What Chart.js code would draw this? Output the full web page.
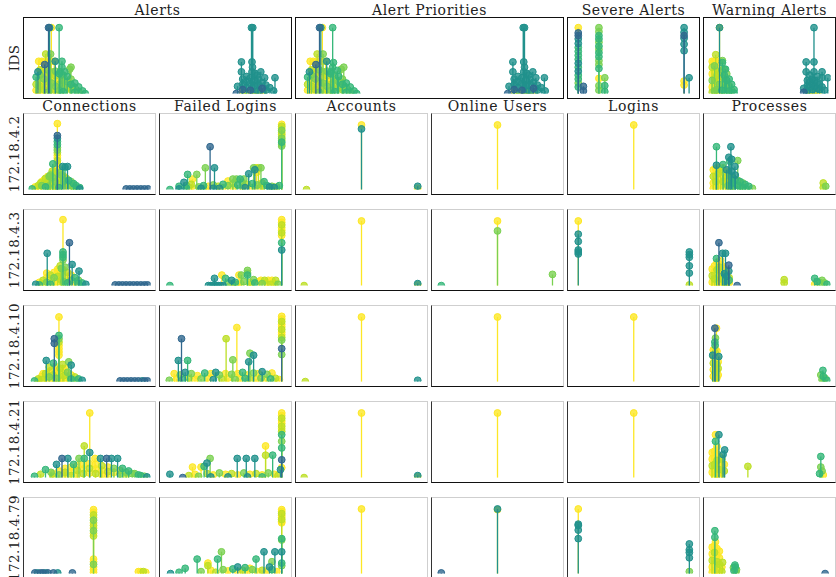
<!DOCTYPE html>
<html>
<head>
<meta charset="utf-8">
<script src="https://cdn.jsdelivr.net/npm/chart.js@4.4.1/dist/chart.umd.min.js"></script>
<style>
  body { margin: 0; background: #fff; font-family: "DejaVu Serif", serif; }
  #page { position: relative; width: 836px; height: 577px; overflow: hidden; }
  .panel { position: absolute; box-sizing: border-box; }
  .panel canvas { display: block; }
  .topframe { border: 1px solid #111; }
  .gridframe { border: 1px solid #cfcfcf; border-left-color: #333; border-bottom-color: #111; }
  .title { position: absolute; text-align: center; font-size: 14px; letter-spacing: 0.6px; color: #222; line-height: 16px; }
  .rowlab { position: absolute; width: 120px; height: 16px; line-height: 16px; text-align: center;
            font-size: 13.5px; letter-spacing: 0.4px; color: #222; transform: rotate(-90deg); }
</style>
</head>
<body>
<div id="page"></div>
<script>
// series colours, one per time window
const palette = ['#31688e', '#21918c', '#35b779', '#7ad151', '#bddf26', '#fde725'];

const topTitles = ['Alerts', 'Alert Priorities', 'Severe Alerts', 'Warning Alerts'];
const colTitles = ['Connections', 'Failed Logins', 'Accounts', 'Online Users', 'Logins', 'Processes'];
const rowLabels = ['IDS', '172.18.4.2', '172.18.4.3', '172.18.4.10', '172.18.4.21', '172.18.4.79'];

// points are [x, y, series]
const alertsPts = [
  [7.8,100,0],[8.2,100,1],[11.9,100,2],[8.9,100,5],
  [6.7,60,4],[8.6,60,3],[10.4,49,1],[13,49,2],[6.3,44,0],[13,40,2],[16.5,40,3],[12.3,33,2],[14.1,33,2],[16,37,3],[3.7,33,1],
  [3,25,2],[3,14,4],[3,5,5],[4.5,36,4],[4.5,28,3],[4.5,20,5],[4.5,11,4],[4.5,3,5],
  [6,38,5],[6,30,4],[6,22,3],[6,14,5],[6,6,4],[7.5,36,3],[7.5,26,5],[7.5,18,4],[7.5,9,5],[7.5,2,3],
  [9,33,4],[9,25,5],[9,16,3],[9,7,5],[10.5,34,3],[10.5,27,4],[10.5,19,5],[10.5,11,3],[10.5,4,4],
  [12,30,2],[12,22,5],[12,14,4],[12,5,3],[13.5,28,3],[13.5,20,4],[13.5,12,5],[13.5,3,2],
  [15,26,2],[15,18,3],[15,9,4],[16.5,22,3],[16.5,14,2],[16.5,6,4],[18,16,2],[18,9,3],[18,2,2],
  [19.5,10,2],[19.5,3,3],[21,4,2],[22,0,2],
  [4,49,5],[5.2,49,5],[6.4,49,5],[7.6,49,5],[8.8,49,5],[10,49,5],
  [86.4,100,1],[86.9,100,1],[82.5,48,1],[86.6,48,1],[82.5,33,1],[86.6,33,1],[90,33,1],[86.8,40,1],[95.5,24,1],[91.5,24,1],
  [87.6,31,1],[88.6,28,1],[81,11,1],[80.5,0,0],
  [83,22,1],[83,14,1],[83,6,0],[84.5,26,1],[84.5,18,1],[84.5,9,1],[86,24,1],[86,15,1],[86,5,0],[87.5,20,1],[87.5,12,1],
  [89,22,1],[89,13,1],[89,4,1],[90.5,17,1],[90.5,8,0],[92,13,1],[92,5,1],[93.5,9,1],[95,4,1],
  [83,3,5],[85,2,5],[87,3,5],[89,2,5],[91,3,5],[84,1,3],[88,1,4]
];
const priorityPts = [
  [7.4,100,0],[7.9,100,1],[12.5,100,2],[8.5,100,5],
  [6.5,60,4],[8.8,60,3],[10.2,49,1],[12.8,47,2],[6,44,0],[12.5,40,2],[16.8,40,3],[11.8,33,2],[14.3,35,2],[15.8,37,3],[3.5,33,1],
  [2.8,25,2],[2.8,14,4],[2.8,5,5],[4.3,36,4],[4.3,28,3],[4.3,20,5],[4.3,11,4],[4.3,3,5],
  [5.8,38,5],[5.8,30,4],[5.8,22,3],[5.8,14,5],[5.8,6,4],[7.3,36,3],[7.3,26,5],[7.3,18,4],[7.3,9,5],[7.3,2,3],
  [8.8,33,4],[8.8,25,5],[8.8,16,3],[8.8,7,5],[10.3,34,3],[10.3,27,4],[10.3,19,5],[10.3,11,3],[10.3,4,4],
  [11.8,30,2],[11.8,22,5],[11.8,14,4],[11.8,5,3],[13.3,28,3],[13.3,20,4],[13.3,12,5],[13.3,3,2],
  [14.8,26,2],[14.8,18,3],[14.8,9,4],[16.3,22,3],[16.3,14,2],[16.3,6,4],[17.8,16,2],[17.8,9,3],[17.8,2,2],
  [19.3,10,2],[19.3,3,3],[20.8,4,2],[21.8,0,2],
  [3.8,49,5],[5,49,5],[6.2,49,5],[7.4,49,5],[8.6,49,5],[9.8,49,5],
  [86.3,100,1],[86.8,100,1],[82.3,48,1],[86.5,48,1],[82.3,33,1],[86.5,33,1],[90,33,1],[86.8,40,1],[94.5,24,1],[91.2,24,1],
  [87.5,31,1],[88.4,28,1],[80.8,11,1],[80.3,0,0],
  [82.8,22,1],[82.8,14,1],[82.8,6,0],[84.3,26,1],[84.3,18,1],[84.3,9,1],[85.8,24,1],[85.8,15,1],[85.8,5,0],[87.3,20,1],[87.3,12,1],
  [88.8,22,1],[88.8,13,1],[88.8,4,1],[90.3,17,1],[90.3,8,0],[91.8,13,1],[91.8,5,1],[93.3,9,1],[94.8,4,1],
  [82.8,3,5],[84.8,2,5],[86.8,3,5],[88.8,2,5],[90.8,3,5],[83.8,1,3],[87.8,1,4]
];
const severePts = [
  [4.8,100,5],[4.8,92,0],[4.8,88,0],[4.8,83,1],[4.8,76,1],[4.8,70,2],[4.8,64,2],[4.8,58,2],[4.8,52,2],[4.8,46,1],
  [4.8,40,2],[4.8,34,1],[4.8,28,2],[4.8,22,2],[4.8,16,3],[4.8,10,2],[9,11,0],[9,4,0],
  [21.7,100,3],[21.7,94,3],[21.7,88,2],[21.7,83,2],[21.7,78,3],[21.7,72,2],[21.7,67,3],[21.7,62,2],[21.7,56,2],
  [21.7,50,3],[21.7,44,3],[21.7,38,2],[21.7,23,5],[21.7,12,3],[21.7,5,3],[26.5,24,3],[26.5,12,2],[26.5,3,2],
  [91.4,100,1],[91.4,93,1],[91.4,88,0],[91.4,84,1],[91.4,75,1],[91.4,65,1],[91.4,19,5],[91.4,13,5],[95.5,24,1]
];
const warningPts = [
  [9.1,100,1],[9.1,100,5],[86.4,100,1],
  [6,59,4],[3,49,5],[4.5,49,5],[6,49,5],[7.5,49,5],[9,49,5],[11.5,50,3],[11.5,47,2],[13,37,3],[14,37,2],
  [3,40,4],[3,30,5],[3,20,3],[3,10,5],[3,2,4],[5,42,3],[5,32,5],[5,22,4],[5,12,5],[5,4,3],
  [7,38,5],[7,28,4],[7,16,5],[7,6,3],[9,34,4],[9,24,5],[9,14,3],[9,4,5],[11,36,3],[11,26,4],[11,15,5],[11,5,2],
  [13,28,2],[13,18,4],[13,8,3],[15,30,3],[15,20,2],[15,10,4],[15,2,3],[17,22,2],[17,12,3],[17,4,2],
  [19,14,2],[19,5,3],[21,6,2],[21,1,2],
  [80,48,1],[86.4,48,1],[80,33,1],[86.4,33,1],[93,33,1],[93,24,1],[97.7,24,1],[83,28,1],[89,26,1],
  [78,8,1],[78,2,0],[81,20,1],[81,12,1],[81,4,1],[83,18,1],[83,10,1],[85,22,1],[85,14,1],[85,6,1],
  [87,20,1],[87,11,1],[89,16,1],[89,8,1],[91,14,1],[91,6,1],[93,10,1],[95,5,1],
  [82,3,5],[84,3,5],[86,3,5],[88,3,5],[90,3,5]
];

const conn1Pts = [
  [23.7,100,5],[23.7,82,0],[23.7,78,1],[23.7,73,2],[23.7,68,2],[23.7,64,3],[23.7,60,3],[23.7,56,4],[23.7,52,5],[23.7,48,5],
  [23.7,44,4],[23.7,40,5],[23.7,36,5],[23.7,32,5],[23.7,28,5],[23.7,24,5],
  [20,39,2],[28,35,1],[32,35,1],[30,34,2],[26.5,26,3],[19.5,28,4],[17,20,3],[13,15,5],[10,10,4],[5.5,4,5],[3,1,2],
  [8,6,4],[8,2,5],[11,12,5],[11,6,3],[14,17,4],[14,10,5],[14,4,2],[16,20,5],[16,12,4],[16,5,3],
  [18,22,3],[18,15,5],[18,7,4],[20,25,5],[20,18,3],[20,10,5],[20,3,4],[22,27,4],[22,20,5],[22,12,3],[22,5,5],
  [25,25,5],[25,17,4],[25,9,5],[25,3,2],[27,22,3],[27,15,5],[27,8,4],[29,20,5],[29,13,3],[29,6,5],
  [31,17,4],[31,10,5],[33,14,2],[33,7,5],[35,12,3],[35,6,4],[37,9,2],[37,4,3],[39,6,2],[39,2,3],[42,3,2],[42,1,1],
  [80,1,0],[83,1,0],[86,1,0],[89,1,0],[92,1,0],[95,1,0],[98,1,0]
];
const fail1Pts = [
  [96,99,5],[96,96,4],[96,93,5],[96,90,3],[96,87,5],[96,84,4],[96,81,5],[96,78,3],[96,75,4],[96,72,2],[96,69,4],[96,66,3],
  [37.4,65,0],[33.5,33,3],[41,33,1],[19,23,2],[26.5,23,3],[23,16,5],[16,11,1],[52,13,5],[69,24,1],
  [56,16,3],[59,16,3],[62,16,2],[65,16,3],[73,33,3],[75,33,5],[77,33,4],[79,33,3],[74,30,1],[75.5,26,5],[81.6,12,2],[4.5,0,2],
  [12,5,2],[12,1,1],[18,6,3],[18,2,2],[22,8,4],[22,3,5],[28,4,3],[32,6,2],[32,2,4],[36,5,5],[40,7,3],[40,2,1],
  [44,5,4],[48,8,2],[48,3,5],[52,6,3],[56,9,4],[56,3,5],[60,7,2],[64,10,3],[64,4,5],[68,8,4],[72,9,2],[72,3,5],
  [76,7,3],[80,10,4],[80,4,5],[84,6,2],[88,5,3],[88,2,5],[92,4,4],[94,6,2],
  [30,2,1],[45,2,1],[66,3,1],[86,4,1],[90,3,1]
];
const acct1Pts = [[50,98,5],[50,92,1],[5,0,4],[96,5,1],[96,2,5]];
const online1Pts = [[50,98,5]];
const login1Pts = [[50.2,98,5]];
const proc1Pts = [
  [6.6,65,2],[18.4,65,1],[16.7,49,1],[19,46,1],[24,44,3],[6.6,37,1],[21.7,35,1],[17.5,43,2],[12,38,2],
  [4,30,5],[4,20,4],[4,10,5],[4,2,5],[6,32,5],[6,22,5],[6,12,4],[6,4,5],[8,34,5],[8,24,4],[8,14,5],[8,5,5],
  [10,30,4],[10,20,5],[10,10,5],[12,33,5],[12,22,5],[12,12,4],[12,3,5],[14,28,5],[14,18,4],[14,8,5],
  [16,25,4],[16,15,5],[16,6,3],[18,20,3],[18,10,4],[18,3,5],
  [20,18,3],[20,10,2],[20,4,3],[22,15,2],[22,8,3],[24,14,3],[24,6,2],[26,12,2],[26,5,3],[28,10,3],[28,3,2],
  [30,8,2],[30,2,3],[33,5,2],[36,2,3],[15,30,1],[19,28,1],[22,22,1],
  [94,10,4],[94,3,4],[96,5,3]
];

const conn2Pts = [
  [28.3,100,5],[33.6,65,0],[15.4,49,1],[28.3,51,2],[28.3,47,2],[28.3,43,2],[28.3,39,3],[35.8,32,1],[41.4,22,1],[15,19,5],
  [26,30,4],[30,28,3],[24,25,5],
  [6,2,1],[9,5,5],[9,1,2],[12,8,4],[12,3,5],[15,12,5],[15,5,3],[18,16,4],[18,8,5],[18,2,2],[21,20,5],[21,12,3],[21,4,5],
  [24,22,5],[24,14,4],[24,6,5],[27,26,3],[27,17,5],[27,8,4],[29,24,5],[29,15,5],[29,6,3],[32,20,4],[32,12,5],[32,4,2],
  [35,16,5],[35,8,3],[38,12,2],[38,5,5],[41,8,3],[41,3,2],[44,4,2],[47,2,1],
  [71,1,0],[74,1,0],[77,1,0],[80,1,0],[83,1,0],[86,1,0],[89,1,0],[92,1,0],[95,1,0],[97.5,1,0]
];
const fail2Pts = [
  [96,100,5],[96,96,5],[96,92,4],[96,88,5],[96,84,5],[96,80,4],[96,76,5],[96,65,2],[96,54,1],
  [41,11,1],[47,16,5],[50,11,2],[55,8,1],[61,16,5],[63,16,3],[68,23,3],[68,19,3],[68,16,2],[73,9,3],
  [79,8,5],[82,8,4],[85,8,5],[88,8,5],[91,8,4],
  [36,0,1],[38,0,1],[40,0,1],[42,0,1],[44,0,1],[46,0,1],[48,0,1],[4.5,0,2],
  [52,4,3],[56,3,5],[58,5,2],[58,2,4],[62,4,5],[65,6,3],[70,5,4],[70,2,5],[74,4,2],[77,6,5],[80,3,3],[84,4,5],
  [87,2,4],[90,3,5],[93,2,3]
];
const acct2Pts = [[50,98,5],[3,0,4],[96,3,1],[96,1,5]];
const online2Pts = [[50,98,5],[50,83,3],[95,17,3],[4,0,2]];
const login2Pts = [
  [4.8,98,5],[4.8,78,1],[4.8,67,1],[4.8,54,1],[4.8,51,1],[4.8,48,1],
  [95.7,51,1],[95.7,47,1],[95.7,43,1],[95.7,30,1],[95.7,19,1],[95.7,1,4]
];
const proc2Pts = [
  [8.6,65,0],[11.6,49,1],[14,49,1],[6.6,41,2],[16.7,31,0],[16.7,22,1],[10,38,5],[9,32,5],
  [3,25,5],[3,15,4],[3,5,5],[5,30,5],[5,20,5],[5,10,4],[5,2,5],[7,35,5],[7,24,4],[7,13,5],[7,4,5],
  [9,28,4],[9,18,5],[9,8,5],[11,30,5],[11,20,5],[11,10,4],[11,3,5],[13,26,5],[13,15,4],[13,5,5],
  [15,20,5],[15,10,5],[15,2,4],[17,12,4],[17,4,5],[13,18,1],[15,14,1],[17,8,2],
  [23.5,0,0],[62,9,4],[62,4,4],[87,11,2],[89,6,2],[91,5,3],[93,8,3],[95,4,3],[97,2,2],[87,2,5]
];

const conn3Pts = [
  [25,98,5],[21.2,65,0],[21.2,58,0],[25,70,2],[25,65,3],[25,60,4],[25,55,5],[25,50,5],[25,45,5],[25,40,5],
  [14.6,32,1],[20.5,28,2],[35,25,1],[33,30,3],[17,22,4],[28,26,4],[30,20,5],[12,12,5],
  [5,1,2],[8,4,4],[8,1,5],[11,8,5],[11,3,4],[14,12,4],[14,5,5],[17,15,5],[17,7,3],[17,2,5],
  [20,18,5],[20,10,4],[20,3,5],[23,22,5],[23,13,5],[23,5,3],[26,20,4],[26,12,5],[26,4,5],
  [29,17,5],[29,9,4],[29,3,5],[32,14,3],[32,6,5],[35,10,5],[35,4,2],[38,7,4],[38,2,3],[41,4,2],[44,2,1],
  [75,1,0],[78,1,0],[81,1,0],[84,1,0],[87,1,0],[90,1,0],[93,1,1],[95,1,0],[97.5,1,0]
];
const fail3Pts = [
  [96,99,5],[96,95,5],[96,91,4],[96,87,5],[96,83,5],[96,79,4],[96,75,5],[96,71,5],[96,67,4],[96,63,3],[96,50,0],[96,41,3],
  [14,65,0],[50.5,65,4],[59.3,82,5],[70,43,3],[73,40,1],[69,30,1],[56,33,3],[11.4,32,1],[19,32,2],
  [8,12,5],[13,10,3],[17,14,1],[22,12,3],[27,9,5],[33,13,2],[38,12,5],[42,14,1],[45,10,3],[50,12,5],
  [55,11,3],[60,12,5],[64,14,2],[68,10,5],[73,13,3],[77,12,5],[80,15,1],[84,11,3],[88,13,5],
  [4,2,3],[10,4,5],[15,3,2],[20,5,4],[25,3,5],[30,4,3],[35,5,5],[40,3,1],[47,4,4],[52,5,5],[58,3,3],
  [62,4,5],[66,5,2],[70,3,4],[75,4,5],[79,5,3],[83,3,5],[87,4,2],[91,5,4],[94,3,5]
];
const acct3Pts = [[50,98,5],[4,0,4],[96,2,1]];
const online3Pts = [[50,98,5]];
const login3Pts = [[50.2,98,5]];
const proc3Pts = [
  [5.3,81,0],[6.6,81,5],[5.8,66,3],[5.5,55,2],[5.3,60,2],
  [4,48,5],[4,38,5],[4,28,4],[4,18,5],[4,8,5],[5.5,50,5],[5.5,44,4],[5.5,34,5],[5.5,24,5],[5.5,14,4],[5.5,4,5],
  [7,46,5],[7,36,5],[7,26,4],[7,16,5],[7,6,5],[8,30,5],[8,20,4],[8,10,5],[3.5,40,1],[8.5,38,1],
  [93.7,17,2],[92,10,3],[94,8,2],[95.5,5,3],[93,3,3],[97,2,2]
];

const conn4Pts = [
  [50.2,98,5],[45.7,48,4],[50.2,38,1],
  [27.5,29,0],[32.3,29,1],[41.4,29,3],[45.7,29,2],[54.5,29,5],[59,29,1],[64,29,0],[68,29,1],[73,29,1],
  [14,12,2],[18.5,8,3],[10,5,4],[5,2,2],[23,20,1],[37,20,2],
  [20,6,5],[20,2,4],[25,10,5],[25,4,3],[30,14,5],[30,8,4],[30,3,5],[35,16,5],[35,9,5],[35,3,4],
  [40,18,5],[40,11,4],[40,4,5],[45,20,5],[45,13,5],[45,6,4],[50,21,5],[50,14,4],[50,7,5],
  [55,20,5],[55,13,5],[55,6,4],[60,18,4],[60,11,5],[60,4,5],[65,16,5],[65,9,4],[65,3,5],
  [70,14,3],[70,8,5],[75,11,4],[75,5,3],[80,8,3],[80,3,4],[85,6,3],[90,4,2],[95,2,3],
  [77,14,2],[82,10,2],[87,6,3],[92,3,2],[97,1,1]
];
const fail4Pts = [
  [96,98,5],[96,94,5],[96,90,4],[96,86,5],[96,82,5],[96,78,4],[96,74,5],[96,70,4],[96,65,2],[96,55,3],[96,45,2],[96,27,0],[96,15,5],
  [82.8,48,5],[82.8,34,4],[88.6,34,2],[59.6,29,1],[67,29,1],[74,29,1],[37.4,29,3],[34.8,22,1],[32.5,17,2],
  [23,16,5],[30,16,5],[15,0,0],[4.5,5,1],[95,12,1],
  [20,3,4],[25,5,5],[28,2,3],[35,6,4],[40,4,5],[45,7,3],[50,5,5],[55,6,4],[60,4,5],[65,7,3],
  [70,5,5],[75,6,4],[80,4,5],[85,7,3],[90,5,5],[93,3,4],[38,1,1],[52,1,1],[68,1,1],[80,1,2]
];
const acct4Pts = [[50,98,5],[3,0,4],[96,3,1],[96,1,5]];
const online4Pts = [[50,98,5]];
const login4Pts = [[50.2,98,5]];
const proc4Pts = [
  [5.8,65,5],[8.6,65,1],[5.8,55,2],[7,47,5],[13.3,42,1],[12,35,1],
  [3,38,5],[3,28,5],[3,18,4],[3,8,5],[5,40,5],[5,30,5],[5,20,4],[5,10,5],[5,2,5],
  [7,36,5],[7,26,4],[7,16,5],[7,6,5],[9,32,5],[9,22,5],[9,12,4],[9,3,5],[11,28,4],[11,18,5],[11,8,5],[13,20,5],[13,10,4],
  [32.3,17,4],[92,32,2],[92,16,3],[93,10,3],[94,4,5],[91,6,2]
];

const conn5Pts = [
  [53.3,97,5],[53.3,93,5],[53.3,89,4],[53.3,85,5],[53.3,81,3],[53.3,77,5],[53.3,73,4],[53.3,69,5],[53.3,65,3],[53.3,61,5],[53.3,57,4],
  [53.3,22,5],[53.3,18,5],[53.3,14,3],[53.3,10,5],[53.3,6,5],[53.3,2,5],
  [5.3,1,0],[7.5,1,1],[10,1,0],[12,1,0],[14,1,1],[16,1,0],[20.5,1,0],[24,1,1],[36,1,0],
  [90,3,5],[92,3,5],[94,3,4],[96,2,5]
];
const fail5Pts = [
  [96,97,5],[96,94,5],[96,91,4],[96,88,5],[96,85,5],[96,82,4],[96,79,5],[96,77,5],[96,53,2],[96,51,3],[96,33,1],[96,16,2],[96,12,3],
  [46.7,33,3],[81.5,33,1],[90.4,33,1],[26.8,22,2],[35.6,16,5],[43.5,22,2],[75,22,2],[17,8,2],[35.6,12,4],
  [60,10,1],[66,9,2],[70,8,5],[86,10,1],[88,18,3],
  [30,3,3],[38,5,5],[42,2,4],[48,6,3],[52,4,5],[56,7,2],[60,3,5],[64,5,4],[68,4,5],[72,6,3],
  [76,3,5],[80,5,4],[84,4,5],[88,6,2],[92,3,5],[5,0,1],[12,2,2]
];
const acct5Pts = [[50,98,5]];
const online5Pts = [[50,98,1],[50,97,5],[4,1,0]];
const login5Pts = [
  [4.8,98,5],[4.8,75,1],[4.8,73,1],[4.8,66,1],[4.8,53,1],
  [95.7,45,1],[95.7,36,1],[95.7,32,1],[95.7,24,1],[95.7,3,3]
];
const proc5Pts = [
  [5.3,65,2],[5.3,55,2],[5.8,48,5],[11.6,17,4],[21.7,13,2],[95.5,0,0],
  [3,40,5],[3,30,5],[3,20,4],[3,10,5],[3,2,5],[5,42,5],[5,32,4],[5,22,5],[5,12,5],[5,4,5],
  [7,38,5],[7,28,5],[7,18,4],[7,8,5],[9,34,5],[9,24,5],[9,14,4],[9,4,5],[11,10,5],[11,3,4],
  [20.5,9,3],[22,10,2],[23,6,3],[21,4,2],[22.5,2,3]
];

const topPts = [alertsPts, priorityPts, severePts, warningPts];
const gridPts = [
  [conn1Pts, fail1Pts, acct1Pts, online1Pts, login1Pts, proc1Pts],
  [conn2Pts, fail2Pts, acct2Pts, online2Pts, login2Pts, proc2Pts],
  [conn3Pts, fail3Pts, acct3Pts, online3Pts, login3Pts, proc3Pts],
  [conn4Pts, fail4Pts, acct4Pts, online4Pts, login4Pts, proc4Pts],
  [conn5Pts, fail5Pts, acct5Pts, online5Pts, login5Pts, proc5Pts]
];

// layout
const colLeft = [23, 159, 295, 431, 567, 703];
const colWidth = 133;
const rowTop = [113, 209, 305, 401, 497];
const rowHeight = 82;
const topRow = { top: 17, height: 82, lefts: [23, 295, 567, 703], widths: [269, 269, 133, 133] };

function withAlpha(hex, a) {
  const n = parseInt(hex.slice(1), 16);
  return 'rgba(' + (n >> 16) + ',' + ((n >> 8) & 255) + ',' + (n & 255) + ',' + a + ')';
}

// draws a vertical stem from each marker down to y = 0
const stemPlugin = {
  id: 'stems',
  beforeDatasetDraw(chart, args) {
    const ds = chart.data.datasets[args.index];
    const yBase = chart.scales.y.getPixelForValue(0);
    const ctx = chart.ctx;
    ctx.save();
    ctx.strokeStyle = ds.stemColor;
    ctx.lineWidth = 1.3;
    ctx.beginPath();
    args.meta.data.forEach(pt => {
      ctx.moveTo(pt.x, pt.y);
      ctx.lineTo(pt.x, yBase);
    });
    ctx.stroke();
    ctx.restore();
  }
};

function makeDatasets(pts) {
  return palette.map((c, i) => ({
    data: pts.filter(p => p[2] === i).map(p => ({ x: p[0], y: p[1] })),
    backgroundColor: withAlpha(c, 0.8),
    borderColor: c,
    stemColor: c,
    borderWidth: 1,
    pointRadius: 3.4,
    pointHoverRadius: 3.4
  }));
}

const page = document.getElementById('page');

function addPanel(left, top, width, height, cls, pts) {
  const div = document.createElement('div');
  div.className = 'panel ' + cls;
  div.style.left = left + 'px';
  div.style.top = top + 'px';
  div.style.width = width + 'px';
  div.style.height = height + 'px';
  const canvas = document.createElement('canvas');
  canvas.width = width - 2;
  canvas.height = height - 2;
  div.appendChild(canvas);
  page.appendChild(div);

  new Chart(canvas, {
    type: 'scatter',
    data: { datasets: makeDatasets(pts) },
    options: {
      responsive: false,
      animation: false,
      devicePixelRatio: 1,
      layout: { padding: 0 },
      plugins: { legend: { display: false }, tooltip: { enabled: false } },
      scales: {
        x: { type: 'linear', min: 0, max: 100, display: false },
        y: { type: 'linear', min: 0, max: 108, display: false }
      }
    },
    plugins: [stemPlugin]
  });
}

function addText(cls, text, left, top, width) {
  const d = document.createElement('div');
  d.className = cls;
  d.textContent = text;
  d.style.left = left + 'px';
  d.style.top = top + 'px';
  if (width) d.style.width = width + 'px';
  page.appendChild(d);
}

// top row (IDS)
topPts.forEach((pts, i) => {
  addPanel(topRow.lefts[i], topRow.top, topRow.widths[i], topRow.height, 'topframe', pts);
  addText('title', topTitles[i], topRow.lefts[i], 2, topRow.widths[i]);
});

// host rows
gridPts.forEach((row, r) => {
  row.forEach((pts, c) => {
    addPanel(colLeft[c], rowTop[r], colWidth, rowHeight, 'gridframe', pts);
  });
});
colTitles.forEach((t, c) => addText('title', t, colLeft[c], 98, colWidth));

// row labels, rotated
const rowCentres = [topRow.top + topRow.height / 2].concat(rowTop.map(t => t + rowHeight / 2));
rowLabels.forEach((t, i) => addText('rowlab', t, 14 - 60, rowCentres[i] - 8));
</script>
</body>
</html>
